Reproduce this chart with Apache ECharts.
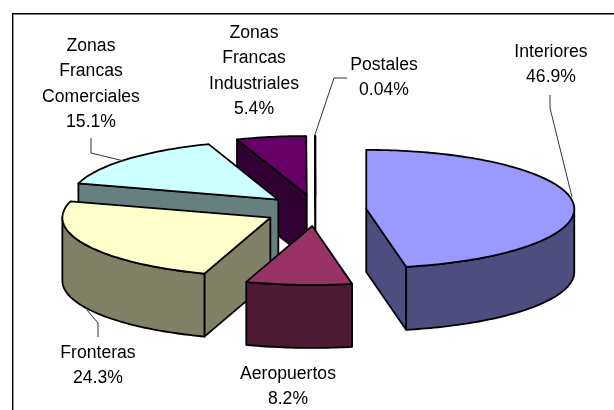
<!DOCTYPE html>
<html><head><meta charset="utf-8">
<style>html,body{margin:0;padding:0;background:#fff}#c{width:614px;height:410px}</style>
<script src="https://cdn.jsdelivr.net/npm/echarts@6/dist/echarts.min.js"></script>
</head><body><div id="c"></div>
<script>
var categories = ['Interiores','Aeropuertos','Fronteras','Zonas Francas Comerciales','Zonas Francas Industriales','Postales'];
var values = [46.9, 8.2, 24.3, 15.1, 5.4, 0.04];
var tickLabels = ['46.9%','8.2%','24.3%','15.1%','5.4%','0.04%'];
var labelLines = [['Interiores'],['Aeropuertos'],['Fronteras'],['Zonas','Francas','Comerciales'],['Zonas','Francas','Industriales'],['Postales']];
var topColors = ['#9999FF','#993366','#FFFFCC','#CCFFFF','#660066','#FFFFFF'];
var sideColors = ['#4D4D80','#4D1A33','#808066','#668080','#330033','#808080'];
var drawOrder = [5,4,3,2,0,1];
var labelCenters = [[551,52],[288,374],[98,353],[91,46],[254,33],[384,65]];
var leaders = [
 [[550,95],[550,108],[572,197]],
 null,
 [[98,337],[98,323],[87,310]],
 [[91,138],[91,153],[124,161]],
 null,
 [[347,78],[334,78],[314.5,136]]
];
var PIE = {cx:315.5,cy:210.4,a:208,b:59,depth:63,ex:51,ey:15.6};
var FONT = '17.6px "Liberation Sans", Arial, sans-serif';
var LINE_H = 25.4;

var total = values.reduce(function(s,v){return s+v;},0);
var spans = [], acc = 0;
values.forEach(function(v){var s=acc/total*Math.PI*2; acc+=v; spans.push([s,acc/total*Math.PI*2]);});

function renderSlice(params, api){
  var i = api.value(0), st = spans[i][0], en = spans[i][1], mid=(st+en)/2;
  var cx = PIE.cx+PIE.ex*Math.sin(mid), cy = PIE.cy-PIE.ey*Math.cos(mid);
  function pt(t,d){return [cx+PIE.a*Math.sin(t), cy-PIE.b*Math.cos(t)+(d||0)];}
  function arc(a0,a1,d){var n=Math.max(2,Math.ceil(Math.abs(a1-a0)/0.02)),o=[];
    for(var k=0;k<=n;k++)o.push(pt(a0+(a1-a0)*k/n,d));return o;}
  var kids=[];
  function poly(points,fill){kids.push({type:'polygon',shape:{points:points},
    style:{fill:fill,stroke:'#000',lineWidth:1.8,lineJoin:'round'}});}
  var C=[cx,cy], CD=[cx,cy+PIE.depth];
  if(Math.sin(st)<0){poly([C,pt(st),pt(st,PIE.depth),CD],sideColors[i]);}
  if(Math.sin(en)>0){poly([C,pt(en),pt(en,PIE.depth),CD],sideColors[i]);}
  var w0=Math.max(st,Math.PI/2), w1=Math.min(en,Math.PI*1.5);
  if(w1>w0){poly(arc(w0,w1,0).concat(arc(w1,w0,PIE.depth)),sideColors[i]);}
  poly([C].concat(arc(st,en,0)),topColors[i]);
  return {type:'group',children:kids};
}
function renderFrame(params, api){
  return {type:'polyline',shape:{points:[[12.7,410],[12.7,13.7],[614,13.7]]},style:{fill:null,stroke:'#000',lineWidth:1.4},silent:true};
}
function renderNotes(params, api){
  var i=api.value(0), kids=[], c=labelCenters[i], lines=labelLines[i].concat([tickLabels[i]]);
  lines.forEach(function(t,k){kids.push({type:'text',style:{text:t,x:c[0],y:c[1]+k*LINE_H,align:'center',verticalAlign:'middle',font:FONT,fill:'#000'}});});
  if(leaders[i]){kids.push({type:'polyline',shape:{points:leaders[i]},style:{fill:null,stroke:'#333',lineWidth:1}});}
  return {type:'group',children:kids};
}
var chart = echarts.init(document.getElementById('c'),null,{renderer:'canvas'});
chart.setOption({
  animation:false,
  backgroundColor:'#fff',
  series:[
    {type:'custom',coordinateSystem:'none',silent:true,z:1,data:[[0]],renderItem:renderFrame},
    {type:'custom',coordinateSystem:'none',silent:true,z:2,
     data:drawOrder.map(function(i){return {name:categories[i],value:[i,values[i]]};}),renderItem:renderSlice},
    {type:'custom',coordinateSystem:'none',silent:true,z:3,
     data:categories.map(function(n,i){return {name:n,value:[i,values[i]]};}),renderItem:renderNotes}
  ]
});
</script></body></html>
